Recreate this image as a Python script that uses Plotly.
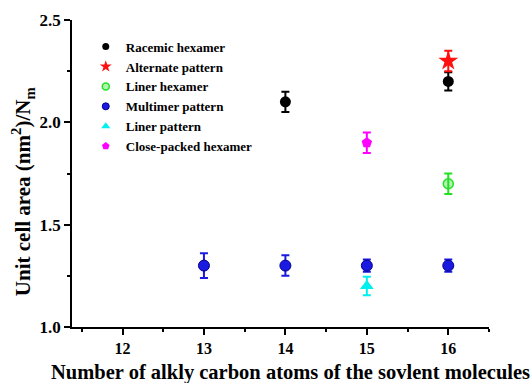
import plotly.graph_objects as go

# Data
racemic_x = [14, 16]
racemic_y = [2.10, 2.20]
racemic_err = [0.05, 0.045]

alternate_x = [16]
alternate_y = [2.30]
alternate_err = [0.05]

liner_hex_x = [16]
liner_hex_y = [1.70]
liner_hex_err = [0.05]

multimer_x = [13, 14, 15, 16]
multimer_y = [1.30, 1.30, 1.30, 1.30]
multimer_err = [0.06, 0.05, 0.03, 0.03]

liner_pat_x = [15]
liner_pat_y = [1.20]
liner_pat_err = [0.045]

close_x = [15]
close_y = [1.90]
close_err = [0.05]

x_ticks = [12, 13, 14, 15, 16]
y_ticks = [1.0, 1.5, 2.0, 2.5]

FONT = "Liberation Serif"

fig = go.Figure()

def add(name, xs, ys, errs, color, symbol, size, leg_size,
        line_color=None, line_width=0, fill=None):
    mk = dict(symbol=symbol, color=fill if fill else color,
              line=dict(color=line_color or color, width=line_width))
    fig.add_trace(go.Scatter(
        x=xs, y=ys, mode="markers", name=name, showlegend=False,
        marker=dict(size=size, **mk),
        error_y=dict(type="data", array=errs, visible=True, color=color,
                     thickness=2, width=4),
    ))
    # legend-only entry with a smaller symbol
    fig.add_trace(go.Scatter(
        x=[None], y=[None], mode="markers", name=name, showlegend=True,
        marker=dict(size=leg_size, **mk),
    ))

add("Racemic hexamer", racemic_x, racemic_y, racemic_err, "black", "circle", 11, 7)
add("Alternate pattern", alternate_x, alternate_y, alternate_err, "#ff1010", "star", 15, 9)
add("Liner hexamer", liner_hex_x, liner_hex_y, liner_hex_err, "#22e022", "circle", 10, 7,
    line_color="#22e022", line_width=1.5, fill="rgba(34,224,34,0.35)")
add("Multimer pattern", multimer_x, multimer_y, multimer_err, "#1a1ae0", "circle", 11, 7,
    line_color="#00008a", line_width=1)
add("Liner pattern", liner_pat_x, liner_pat_y, liner_pat_err, "#00f0f0", "triangle-up", 12, 8)
add("Close-packed hexamer", close_x, close_y, close_err, "#ff00ff", "pentagon", 11, 8)

fig.update_layout(
    width=532, height=383,
    margin=dict(l=72, r=43, t=20, b=56),
    paper_bgcolor="white", plot_bgcolor="white",
    font=dict(family=FONT, color="black", size=14),
    showlegend=True,
    legend=dict(x=0.033, y=0.962, xanchor="left", yanchor="top",
                font=dict(family=FONT, size=13, weight="bold"),
                bgcolor="rgba(0,0,0,0)", itemwidth=30, tracegroupgap=0),
    xaxis=dict(
        range=[11.38, 16.5], tickvals=x_ticks, ticktext=[str(v) for v in x_ticks],
        showgrid=False, zeroline=False, showline=True, linecolor="black", linewidth=1.5,
        ticks="outside", ticklen=6, tickwidth=1.5, tickcolor="black",
        tickfont=dict(family=FONT, size=16, weight="bold"),
        minor=dict(ticks="outside", ticklen=3, tickwidth=1.5, tickcolor="black", dtick=0.5, tick0=11.5),
    ),
    yaxis=dict(
        range=[1.0, 2.5], tickvals=y_ticks, ticktext=["1.0", "1.5", "2.0", "2.5"],
        showgrid=False, zeroline=False, showline=True, linecolor="black", linewidth=1.5,
        ticks="outside", ticklen=6, tickwidth=1.5, tickcolor="black",
        tickfont=dict(family=FONT, size=17, weight="bold"),
        minor=dict(ticks="outside", ticklen=3, tickwidth=1.5, tickcolor="black", dtick=0.25, tick0=1.0),
    ),
    annotations=[
        dict(text="Number of alkly carbon atoms of the sovlent molecules",
             xref="paper", yref="paper", x=0.523, y=-0.147,
             xanchor="center", yanchor="middle", showarrow=False,
             font=dict(family=FONT, size=20.5, weight="bold")),
        dict(text="Unit cell area (nm<sup>2</sup>)/N<sub>m</sub>",
             xref="paper", yref="paper", x=-0.117, y=0.44, textangle=-90,
             xanchor="center", yanchor="middle", showarrow=False,
             font=dict(family=FONT, size=21, weight="bold")),
    ],
)

fig.write_html("out.html")
